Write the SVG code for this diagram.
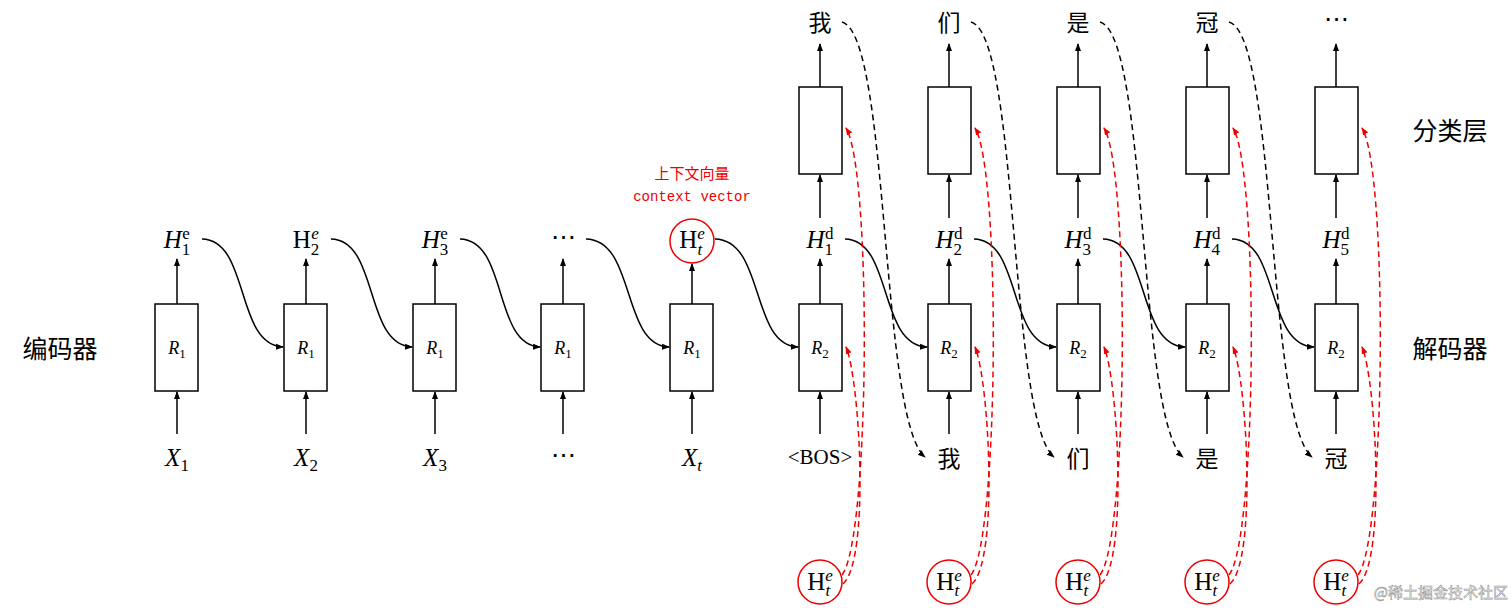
<svg xmlns="http://www.w3.org/2000/svg" width="1512" height="611" viewBox="0 0 1512 611">
<style>
.box{fill:#fff;stroke:#000;stroke-width:1.5}
.ln{fill:none;stroke:#000;stroke-width:1.5}
.bd{fill:none;stroke:#000;stroke-width:1.5;stroke-dasharray:6 4}
.rd{fill:none;stroke:#e00;stroke-width:1.5;stroke-dasharray:6 4}
.m{font-family:"Liberation Serif",serif;font-size:25px;text-anchor:middle}
.i{font-style:italic}
.s{font-size:17px;font-style:normal}
.si{font-size:17px;font-style:italic}
.r{font-family:"Liberation Serif",serif;font-size:18px;text-anchor:middle;font-style:italic}
.cn{font-family:"Noto Sans CJK SC",sans-serif;font-size:23px;text-anchor:middle}
.lab{font-size:25px}
.rc{fill:none;stroke:#e00;stroke-width:1.5}
</style>
<defs>
<marker id="a" markerWidth="8" markerHeight="8" refX="7" refY="4" orient="auto" markerUnits="userSpaceOnUse"><path d="M0,1 L8,4 L0,7 z" fill="#000"/></marker>
<marker id="ar" markerWidth="8" markerHeight="8" refX="7" refY="4" orient="auto" markerUnits="userSpaceOnUse"><path d="M0,1 L8,4 L0,7 z" fill="#e00"/></marker>
</defs>

<text class="cn lab" x="60" y="358">编码器</text>
<text class="cn lab" x="1450" y="358">解码器</text>
<text class="cn lab" x="1450" y="140">分类层</text>
<text class="cn" x="692" y="179" fill="#e00" style="font-size:15px">上下文向量</text>
<text x="692" y="201" fill="#e00" font-family="Liberation Mono,monospace" font-size="14" text-anchor="middle">context vector</text>

<g id="enc1"><rect class="box" x="155" y="304" width="43" height="87"/><text class="r" x="177" y="354">R<tspan font-size="13" font-style="normal" dy="4">1</tspan></text></g>
<g id="enc2"><rect class="box" x="284" y="304" width="43" height="87"/><text class="r" x="306" y="354">R<tspan font-size="13" font-style="normal" dy="4">1</tspan></text></g>
<g id="enc3"><rect class="box" x="413" y="304" width="43" height="87"/><text class="r" x="435" y="354">R<tspan font-size="13" font-style="normal" dy="4">1</tspan></text></g>
<g id="enc4"><rect class="box" x="541" y="304" width="43" height="87"/><text class="r" x="563" y="354">R<tspan font-size="13" font-style="normal" dy="4">1</tspan></text></g>
<g id="enc5"><rect class="box" x="670" y="304" width="43" height="87"/><text class="r" x="692" y="354">R<tspan font-size="13" font-style="normal" dy="4">1</tspan></text></g>
<g id="dec1"><rect class="box" x="799" y="304" width="43" height="87"/><text class="r" x="820" y="354">R<tspan font-size="13" font-style="normal" dy="4">2</tspan></text></g>
<g id="dec2"><rect class="box" x="928" y="304" width="43" height="87"/><text class="r" x="949" y="354">R<tspan font-size="13" font-style="normal" dy="4">2</tspan></text></g>
<g id="dec3"><rect class="box" x="1057" y="304" width="43" height="87"/><text class="r" x="1078" y="354">R<tspan font-size="13" font-style="normal" dy="4">2</tspan></text></g>
<g id="dec4"><rect class="box" x="1186" y="304" width="43" height="87"/><text class="r" x="1207" y="354">R<tspan font-size="13" font-style="normal" dy="4">2</tspan></text></g>
<g id="dec5"><rect class="box" x="1315" y="304" width="43" height="87"/><text class="r" x="1336" y="354">R<tspan font-size="13" font-style="normal" dy="4">2</tspan></text></g>
<g id="cls1"><rect class="box" x="799" y="87" width="43" height="87"/></g>
<g id="cls2"><rect class="box" x="928" y="87" width="43" height="87"/></g>
<g id="cls3"><rect class="box" x="1057" y="87" width="43" height="87"/></g>
<g id="cls4"><rect class="box" x="1186" y="87" width="43" height="87"/></g>
<g id="cls5"><rect class="box" x="1315" y="87" width="43" height="87"/></g>

<g id="inputs">
<text class="m i" x="177" y="466">X<tspan class="s" dy="5">1</tspan></text>
<text class="m i" x="306" y="466">X<tspan class="s" dy="5">2</tspan></text>
<text class="m i" x="435" y="466">X<tspan class="s" dy="5">3</tspan></text>
<text class="m" x="563" y="463">⋯</text>
<text class="m i" x="692" y="466">X<tspan class="si" dy="5">t</tspan></text>
<text class="m" x="820" y="464" style="font-size:21px">&lt;BOS&gt;</text>
<text class="cn" x="949" y="467">我</text>
<text class="cn" x="1078" y="467">们</text>
<text class="cn" x="1207" y="467">是</text>
<text class="cn" x="1336" y="467">冠</text>
</g>
<g id="outputs">
<text class="cn" x="820" y="31">我</text>
<text class="cn" x="949" y="31">们</text>
<text class="cn" x="1078" y="31">是</text>
<text class="cn" x="1207" y="31">冠</text>
<text class="m" x="1336" y="27">⋯</text>
</g>
<g id="hidden">
<text class="m i" x="177" y="248">H<tspan class="s" dy="7">1</tspan><tspan class="s" dx="-8" dy="-16">e</tspan></text>
<text class="m" x="306" y="248">H<tspan class="s" dy="7">2</tspan><tspan class="si" dx="-8" dy="-16">e</tspan></text>
<text class="m i" x="435" y="248">H<tspan class="s" dy="7">3</tspan><tspan class="s" dx="-8" dy="-16">e</tspan></text>
<text class="m" x="563" y="245">⋯</text>
<text class="m" x="692" y="248">H<tspan class="si" dy="7">t</tspan><tspan class="si" dx="-5" dy="-16">e</tspan></text>
<text class="m i" x="820" y="248">H<tspan class="s" dy="7">1</tspan><tspan class="s" dx="-8" dy="-16">d</tspan></text>
<text class="m i" x="949" y="248">H<tspan class="s" dy="7">2</tspan><tspan class="s" dx="-8" dy="-16">d</tspan></text>
<text class="m i" x="1078" y="248">H<tspan class="s" dy="7">3</tspan><tspan class="s" dx="-8" dy="-16">d</tspan></text>
<text class="m i" x="1207" y="248">H<tspan class="s" dy="7">4</tspan><tspan class="s" dx="-8" dy="-16">d</tspan></text>
<text class="m i" x="1336" y="248">H<tspan class="s" dy="7">5</tspan><tspan class="s" dx="-8" dy="-16">d</tspan></text>
<circle class="rc" cx="692" cy="241" r="22"/>
</g>
<g id="ctx">
<circle class="rc" cx="820" cy="582" r="22"/><text class="m" x="820" y="590">H<tspan class="si" dy="6">t</tspan><tspan class="si" dx="-5" dy="-15">e</tspan></text>
<circle class="rc" cx="949" cy="582" r="22"/><text class="m" x="949" y="590">H<tspan class="si" dy="6">t</tspan><tspan class="si" dx="-5" dy="-15">e</tspan></text>
<circle class="rc" cx="1078" cy="582" r="22"/><text class="m" x="1078" y="590">H<tspan class="si" dy="6">t</tspan><tspan class="si" dx="-5" dy="-15">e</tspan></text>
<circle class="rc" cx="1207" cy="582" r="22"/><text class="m" x="1207" y="590">H<tspan class="si" dy="6">t</tspan><tspan class="si" dx="-5" dy="-15">e</tspan></text>
<circle class="rc" cx="1336" cy="582" r="22"/><text class="m" x="1336" y="590">H<tspan class="si" dy="6">t</tspan><tspan class="si" dx="-5" dy="-15">e</tspan></text>
</g>

<g id="connectors">
<path class="ln" marker-end="url(#a)" d="M177,434V392"/><path class="ln" marker-end="url(#a)" d="M306,434V392"/><path class="ln" marker-end="url(#a)" d="M435,434V392"/><path class="ln" marker-end="url(#a)" d="M563,434V392"/><path class="ln" marker-end="url(#a)" d="M692,434V392"/>
<path class="ln" marker-end="url(#a)" d="M820,434V392"/><path class="ln" marker-end="url(#a)" d="M949,434V392"/><path class="ln" marker-end="url(#a)" d="M1078,434V392"/><path class="ln" marker-end="url(#a)" d="M1207,434V392"/><path class="ln" marker-end="url(#a)" d="M1336,434V392"/>
<path class="ln" marker-end="url(#a)" d="M177,304V259"/><path class="ln" marker-end="url(#a)" d="M306,304V259"/><path class="ln" marker-end="url(#a)" d="M435,304V259"/><path class="ln" marker-end="url(#a)" d="M563,304V259"/><path class="ln" marker-end="url(#a)" d="M692,304V264"/>
<path class="ln" marker-end="url(#a)" d="M820,304V259"/><path class="ln" marker-end="url(#a)" d="M949,304V259"/><path class="ln" marker-end="url(#a)" d="M1078,304V259"/><path class="ln" marker-end="url(#a)" d="M1207,304V259"/><path class="ln" marker-end="url(#a)" d="M1336,304V259"/>
<path class="ln" marker-end="url(#a)" d="M820,218V175"/><path class="ln" marker-end="url(#a)" d="M949,218V175"/><path class="ln" marker-end="url(#a)" d="M1078,218V175"/><path class="ln" marker-end="url(#a)" d="M1207,218V175"/><path class="ln" marker-end="url(#a)" d="M1336,218V175"/>
<path class="ln" marker-end="url(#a)" d="M820,87V44"/><path class="ln" marker-end="url(#a)" d="M949,87V44"/><path class="ln" marker-end="url(#a)" d="M1078,87V44"/><path class="ln" marker-end="url(#a)" d="M1207,87V44"/><path class="ln" marker-end="url(#a)" d="M1336,87V44"/>
<path class="ln" marker-end="url(#a)" d="M202,239 C250,240 235,345 283,347"/>
<path class="ln" marker-end="url(#a)" d="M331,239 C379,240 364,345 412,347"/>
<path class="ln" marker-end="url(#a)" d="M460,239 C508,240 493,345 540,347"/>
<path class="ln" marker-end="url(#a)" d="M586,239 C636,240 621,345 669,347"/>
<path class="ln" marker-end="url(#a)" d="M715,239 C765,240 750,345 798,347"/>
<path class="ln" marker-end="url(#a)" d="M845,239 C893,240 878,345 927,347"/>
<path class="ln" marker-end="url(#a)" d="M974,239 C1022,240 1007,345 1056,347"/>
<path class="ln" marker-end="url(#a)" d="M1103,239 C1151,240 1136,345 1185,347"/>
<path class="ln" marker-end="url(#a)" d="M1232,239 C1280,240 1265,345 1314,347"/>
<path class="bd" marker-end="url(#a)" d="M842,22 C890,35 880,420 925,457"/>
<path class="bd" marker-end="url(#a)" d="M971,22 C1019,35 1009,420 1054,457"/>
<path class="bd" marker-end="url(#a)" d="M1100,22 C1148,35 1138,420 1183,457"/>
<path class="bd" marker-end="url(#a)" d="M1229,22 C1277,35 1267,420 1312,457"/>
<path class="rd" marker-end="url(#ar)" d="M843,584 C870,560 860,380 846,347"/>
<path class="rd" marker-end="url(#ar)" d="M842,575 C870,540 872,170 846,128"/>
<path class="rd" marker-end="url(#ar)" d="M972,584 C999,560 989,380 975,347"/>
<path class="rd" marker-end="url(#ar)" d="M971,575 C999,540 1001,170 975,128"/>
<path class="rd" marker-end="url(#ar)" d="M1101,584 C1128,560 1118,380 1104,347"/>
<path class="rd" marker-end="url(#ar)" d="M1100,575 C1128,540 1130,170 1104,128"/>
<path class="rd" marker-end="url(#ar)" d="M1230,584 C1257,560 1247,380 1233,347"/>
<path class="rd" marker-end="url(#ar)" d="M1229,575 C1257,540 1259,170 1233,128"/>
<path class="rd" marker-end="url(#ar)" d="M1359,584 C1386,560 1376,380 1362,347"/>
<path class="rd" marker-end="url(#ar)" d="M1358,575 C1386,540 1388,170 1362,128"/>
</g>
<text x="1508" y="598" font-family="Noto Sans CJK SC,sans-serif" font-size="15" fill="#fff" stroke="#999" stroke-width="0.6" text-anchor="end">@稀土掘金技术社区</text>
</svg>
